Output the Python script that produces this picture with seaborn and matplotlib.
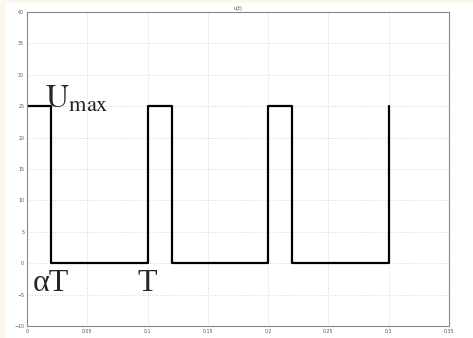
import matplotlib
matplotlib.use("Agg")
from matplotlib import pyplot as plt
import matplotlib.patches as mpatches
import pandas as pd
import seaborn as sns

# square wave switching instants and levels
t_edges = [0, 0.02, 0.1, 0.12, 0.2, 0.22, 0.3]
u_levels = [25, 0, 25, 0, 25, 0, 25]
x_ticks = [0, 0.05, 0.1, 0.15, 0.2, 0.25, 0.3, 0.35]
x_tick_labels = ['0', '0.05', '0.1', '0.15', '0.2', '0.25', '0.3', '0.35']
y_ticks = [-10, -5, 0, 5, 10, 15, 20, 25, 30, 35, 40]

df = pd.DataFrame({'t': t_edges, 'u': u_levels})

sns.set_style('white')
plt.rcParams['mathtext.fontset'] = 'stix'

fig = plt.figure(figsize=(4.73, 3.38), dpi=100, facecolor='#fdf8ee')
# white panel behind the plot
fig.patches.append(mpatches.Rectangle((0.012, 0), 0.988, 0.991, transform=fig.transFigure,
                                      facecolor='white', edgecolor='none', zorder=-10))
ax = fig.add_axes([0.057, 0.0355, 0.892, 0.929])

sns.lineplot(data=df, x='t', y='u', ax=ax, color='black', lw=1.6,
             drawstyle='steps-post', estimator=None, sort=False)

ax.set_xlim(0, 0.35)
ax.set_ylim(-10, 40)
ax.set_xticks(x_ticks)
ax.set_xticklabels(x_tick_labels)
ax.set_yticks(y_ticks)
ax.tick_params(labelsize=3.4, colors='#555555', direction='in', length=2, width=0.5, pad=2)
ax.grid(True, linestyle=(0, (1, 2)), color='#c8c8c8', lw=0.6)
for sp in ax.spines.values():
    sp.set_color('#888888')
    sp.set_linewidth(0.8)
ax.set_xlabel('')
ax.set_ylabel('')
ax.set_title('u(t)', fontsize=3.5, pad=1.5, color='#444444')

# annotations
ax.text(0.015, 24.7, r'$\mathrm{U}_{\mathrm{max}}$', fontsize=23, va='baseline', ha='left')
ax.text(0.005, -4.4, 'αT', fontsize=23, va='baseline', ha='left',
        family=['Liberation Serif', 'DejaVu Serif'])
ax.text(0.0915, -4.4, 'T', fontsize=23, va='baseline', ha='left',
        family=['Liberation Serif', 'DejaVu Serif'])

fig.savefig('out.png', dpi=100, facecolor=fig.get_facecolor())
